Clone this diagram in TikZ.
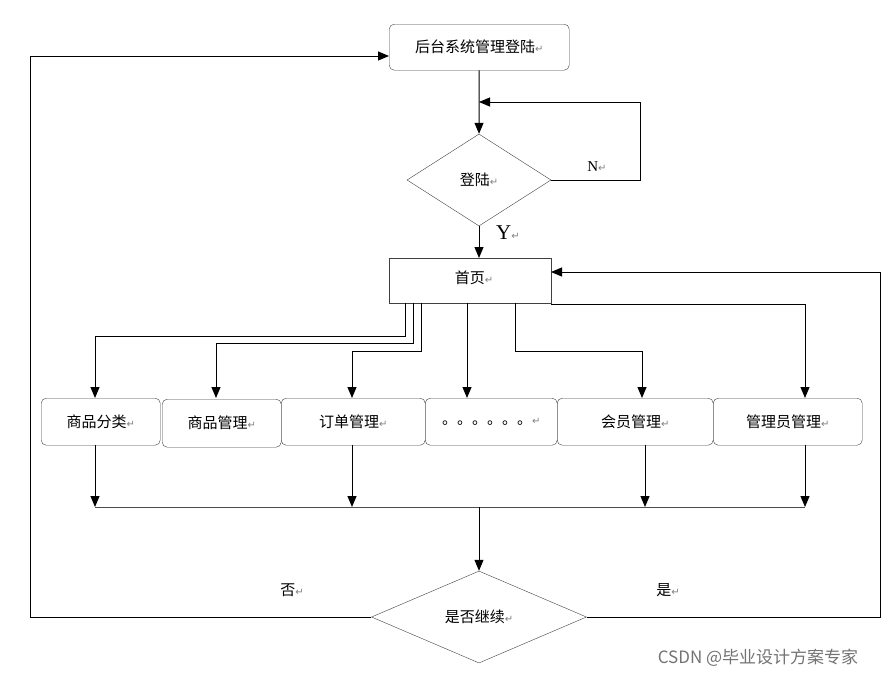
\documentclass[tikz,border=0pt]{standalone}
\usepackage{fontspec}
\setmainfont{Liberation Serif}
\newfontfamily\cjk{Noto Sans CJK SC}
\newfontfamily\dvs{DejaVu Sans}
\usetikzlibrary{shapes.geometric,arrows.meta}
\newcommand{\pmark}{{\dvs\color{gray}\fontsize{10pt}{12pt}\selectfont ↵}}
\begin{document}
\begin{tikzpicture}[x=1pt,y=-1pt,
  every node/.style={font=\cjk\fontsize{15pt}{18pt}\selectfont},
  box/.style={draw=black!75,rounded corners=5pt,minimum height=46pt,inner sep=0pt,anchor=north west},
  dia/.style={draw=black!75,diamond,aspect=1.55,inner sep=0pt},
  ln/.style={draw=black!70,line width=1pt},
  ar/.style={ln,-{Triangle[length=11pt,width=9pt]},black}]
\useasboundingbox (0,0) rectangle (888,678);
\node[box,minimum width=180pt] (login) at (389,24) {后台系统管理登陆\pmark};
\node[dia,minimum width=144pt,minimum height=92pt] (d1) at (479,180) {登陆\pmark};
\node[box,rounded corners=0pt,minimum width=162pt,minimum height=45pt] (home) at (389,258) {};
\node at (474,278) {首页\pmark};
\node[box,minimum width=119pt,minimum height=47pt] (b1) at (41,398) {商品分类\pmark};
\node[box,minimum width=119pt,minimum height=48pt] (b2) at (162,399) {商品管理\pmark};
\node[box,minimum width=144pt,minimum height=47pt] (b3) at (281,398) {订单管理\pmark};
\node[box,minimum width=132pt,minimum height=47pt] (b4) at (425,398) {。。。。。。\pmark};
\node[box,minimum width=156pt,minimum height=47pt] (b5) at (557,398) {会员管理\pmark};
\node[box,minimum width=149pt,minimum height=47pt] (b6) at (713,398) {管理员管理\pmark};
\node[dia,minimum width=215pt,minimum height=92pt] (d2) at (479,617) {是否继续\pmark};
\node[font=\fontsize{15pt}{18pt}\selectfont] at (597,167) {N\pmark};
\node[font=\fontsize{21pt}{24pt}\selectfont] at (508,233) {Y\pmark};
\node at (292,590) {否\pmark};
\node at (668,590) {是\pmark};
\node[font=\cjk\fontsize{17pt}{20pt}\selectfont,text=black!55] at (758,658) {CSDN @毕业设计方案专家};
\coordinate (m) at (479,507);
\draw[ar] (login.south) -- (d1.north);
\draw[ar] (d1.east) -- (640,180) -- (640,102) -- (479,102);
\draw[ar] (d1.south) -- (home.north -| d1.south);
\draw[ar] (405,303) -- (405,336) -- (95,336) -- (95,398);
\draw[ar] (413,303) -- (413,343) -- (216,343) -- (216,398);
\draw[ar] (421,303) -- (421,351) -- (352,351) -- (352,398);
\draw[ar] (467,303) -- (467,398);
\draw[ar] (515,303) -- (515,351) -- (642,351) -- (642,398);
\draw[ar] (551,304) -- (805,304) -- (805,398);
\draw[ar] (95,445) -- (95,507);
\draw[ar] (352,445) -- (352,507);
\draw[ar] (645,445) -- (645,507);
\draw[ar] (805,445) -- (805,507);
\draw[ln] (95,507) -- (805,507);
\draw[ar] (m) -- (d2.north);
\draw[ar] (d2.west) -- (30,617) -- (30,56) -- (login.west |- 0,56);
\draw[ar] (d2.east) -- (880,617) -- (880,272) -- (551,272);
\end{tikzpicture}
\end{document}
